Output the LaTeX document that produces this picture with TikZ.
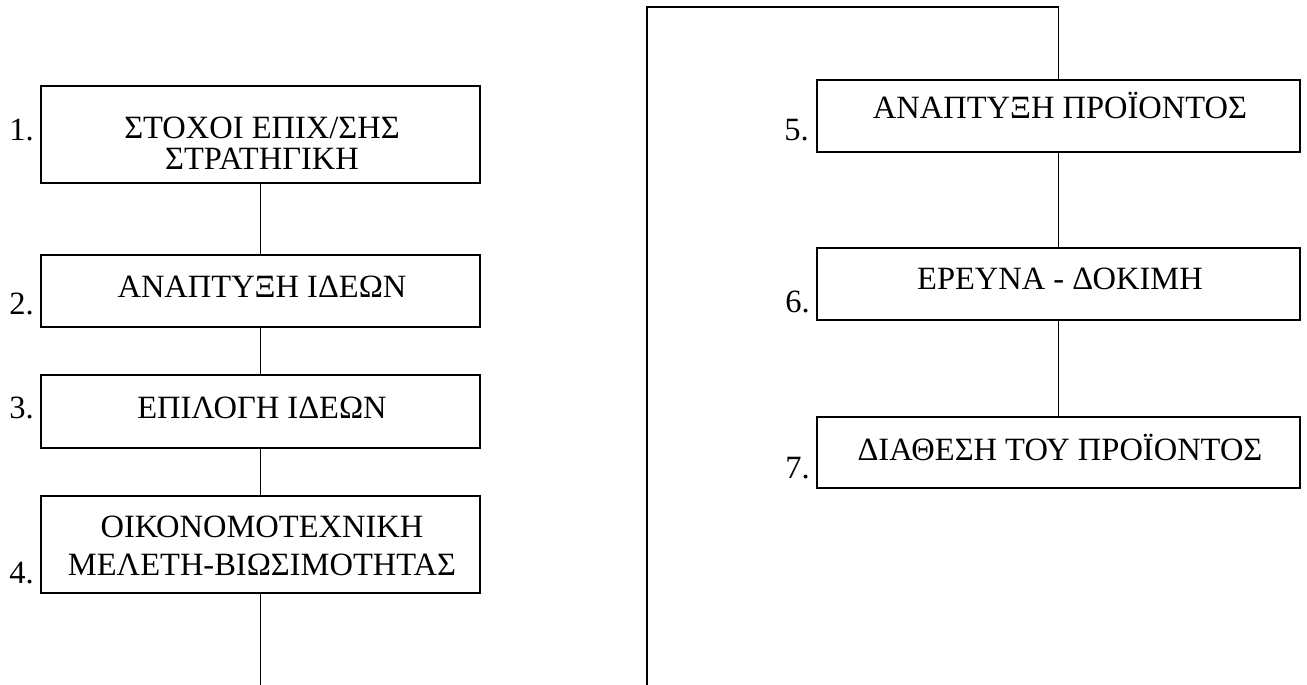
\documentclass[tikz,border=0pt]{standalone}
\usepackage{fontspec}
\setmainfont{Liberation Serif}
\begin{document}
\begin{tikzpicture}[x=1pt,y=-1pt,
  box/.style={draw, line width=1.7pt, inner sep=0pt, minimum height=#1},
  lbox/.style={box=#1, minimum width=439pt},
  rbox/.style={box=#1, minimum width=483pt},
  txt/.style={anchor=base, inner sep=0pt, font=\fontsize{32.5}{36}\selectfont},
  num/.style={anchor=base east, inner sep=0pt, font=\fontsize{32.5}{36}\selectfont},
  conn/.style={draw, line width=1.6pt}]
\useasboundingbox (0,0) rectangle (1307,685);
% left column boxes
\node[lbox=97pt] (b1) at (260.5,134.5) {};
\node[lbox=72pt] (b2) at (260.5,291) {};
\node[lbox=73pt] (b3) at (260.5,411.5) {};
\node[lbox=97pt] (b4) at (260.5,544.5) {};
% right column boxes
\node[rbox=72pt] (b5) at (1058.5,116) {};
\node[rbox=72pt] (b6) at (1058.5,284) {};
\node[rbox=71pt] (b7) at (1058.5,452.5) {};
% texts
\node[txt] (t1a) at (262,139) {ΣΤΟΧΟΙ ΕΠΙΧ/ΣΗΣ};
\node[txt] (t1b) at (262,169) {ΣΤΡΑΤΗΓΙΚΗ};
\node[txt] (t2) at (262,297) {ΑΝΑΠΤΥΞΗ ΙΔΕΩΝ};
\node[txt] (t3) at (262,418) {ΕΠΙΛΟΓΗ ΙΔΕΩΝ};
\node[txt] (t4a) at (262,537) {ΟΙΚΟΝΟΜΟΤΕΧΝΙΚΗ};
\node[txt] (t4b) at (262,575) {ΜΕΛΕΤΗ-ΒΙΩΣΙΜΟΤΗΤΑΣ};
\node[txt] (t5) at (1060,118) {ΑΝΑΠΤΥΞΗ ΠΡΟΪΟΝΤΟΣ};
\node[txt] (t6) at (1060,289) {ΕΡΕΥΝΑ - ΔΟΚΙΜΗ};
\node[txt] (t7) at (1060,460) {ΔΙΑΘΕΣΗ ΤΟΥ ΠΡΟΪΟΝΤΟΣ};
% numbers
\node[num] (n1) at (34,140) {1.};
\node[num] (n2) at (34,314) {2.};
\node[num] (n3) at (34,418) {3.};
\node[num] (n4) at (34,583) {4.};
\node[num] (n5) at (809,140) {5.};
\node[num] (n6) at (810,312) {6.};
\node[num] (n7) at (810,478) {7.};
% connectors
\coordinate (lbot) at (260.5,685);
\coordinate (rbot) at (647,685);
\coordinate (rtop) at (647,7);
\draw[conn] (b1.south) -- (b2.north);
\draw[conn] (b2.south) -- (b3.north);
\draw[conn] (b3.south) -- (b4.north);
\draw[conn] (b4.south) -- (lbot);
\draw[conn] (rbot) -- (rtop) -| (b5.north);
\draw[conn] (b5.south) -- (b6.north);
\draw[conn] (b6.south) -- (b7.north);
\end{tikzpicture}
\end{document}
